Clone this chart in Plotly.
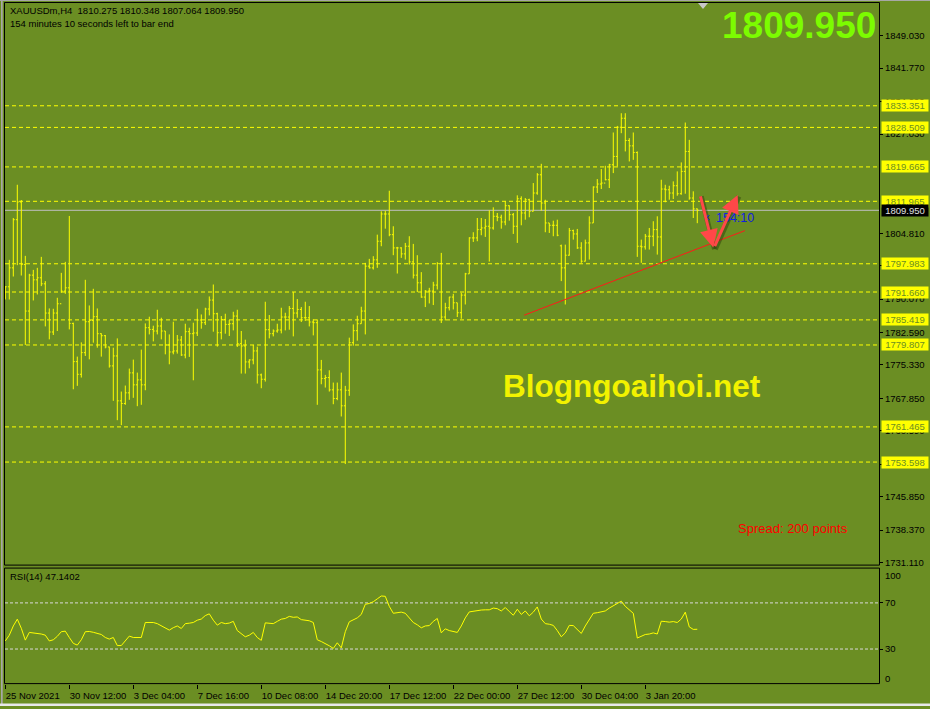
import plotly.graph_objects as go

# ---------------- data ----------------
OPEN = [1790.50, 1792.83, 1797.07, 1807.85, 1811.81, 1797.81, 1787.40, 1795.44, 1794.39, 1794.84,
        1793.50, 1786.95, 1782.71, 1786.95, 1789.03, 1791.87, 1792.60, 1784.63, 1776.08, 1773.24,
        1778.09, 1785.01, 1785.30, 1786.13, 1782.33, 1781.88, 1779.36, 1775.12, 1777.35, 1767.30,
        1766.70, 1769.09, 1773.56, 1770.88, 1771.99, 1770.88, 1783.67, 1783.29, 1782.93, 1784.05,
        1782.93, 1779.81, 1778.24, 1778.47, 1780.92, 1777.57, 1782.78, 1782.33, 1782.49, 1785.39,
        1784.79, 1787.85, 1789.86, 1786.80, 1782.55, 1785.52, 1784.41, 1784.56, 1786.28, 1780.10,
        1779.58, 1776.01, 1776.46, 1778.47, 1773.11, 1772.13, 1783.22, 1782.33, 1782.93, 1783.16,
        1786.06, 1786.06, 1787.98, 1786.95, 1787.76, 1785.90, 1785.90, 1784.94, 1784.79, 1774.23,
        1772.28, 1772.51, 1769.76, 1767.82, 1769.76, 1766.19, 1769.67, 1780.32, 1783.00, 1784.56,
        1787.40, 1797.45, 1797.07, 1798.86, 1803.03, 1809.13, 1809.13, 1804.50, 1801.53, 1801.53,
        1800.20, 1801.91, 1798.41, 1795.44, 1793.72, 1790.53, 1791.87, 1791.87, 1793.21, 1798.03,
        1786.06, 1788.14, 1790.53, 1789.25, 1787.02, 1790.97, 1795.73, 1803.77, 1803.77, 1805.62,
        1806.00, 1806.38, 1806.00, 1808.61, 1808.39, 1807.34, 1810.98, 1808.97, 1806.38, 1812.54,
        1809.35, 1812.32, 1809.73, 1813.82, 1817.90, 1811.58, 1807.12, 1806.60, 1806.60, 1802.00,
        1797.07, 1799.90, 1805.40, 1804.66, 1801.53, 1798.56, 1802.65, 1807.12, 1815.16, 1815.83,
        1816.05, 1816.79, 1820.14, 1822.01, 1828.55, 1830.56, 1825.58, 1824.38, 1822.90, 1801.91,
        1801.76, 1804.15, 1804.15, 1805.62, 1803.99, 1814.71, 1814.55, 1813.82, 1815.45, 1813.66,
        1818.66, 1823.13, 1812.70, 1810.275]

HIGH = [1792.98, 1798.86, 1808.23, 1815.67, 1812.25, 1799.75, 1795.73, 1796.62, 1797.07, 1799.53,
        1794.10, 1787.98, 1787.91, 1790.37, 1795.95, 1798.41, 1808.68, 1784.79, 1777.20, 1780.39,
        1794.39, 1788.65, 1792.38, 1787.98, 1782.40, 1782.04, 1779.43, 1779.20, 1781.28, 1769.38,
        1770.72, 1774.52, 1776.53, 1773.62, 1778.76, 1784.63, 1786.13, 1784.12, 1787.69, 1785.90,
        1782.93, 1782.17, 1785.01, 1782.04, 1781.82, 1784.56, 1783.67, 1784.79, 1787.91, 1786.64,
        1788.14, 1790.66, 1793.34, 1787.02, 1786.28, 1786.80, 1785.39, 1787.24, 1787.69, 1782.93,
        1780.99, 1776.59, 1779.81, 1779.43, 1773.40, 1789.48, 1786.51, 1783.29, 1784.56, 1788.14,
        1787.02, 1788.52, 1791.64, 1790.08, 1788.29, 1789.48, 1788.52, 1785.52, 1785.52, 1776.46,
        1773.11, 1774.14, 1771.39, 1771.39, 1773.62, 1770.65, 1781.44, 1784.41, 1786.35, 1788.36,
        1798.19, 1799.08, 1799.68, 1804.50, 1809.73, 1809.86, 1814.33, 1806.38, 1801.76, 1801.69,
        1802.65, 1804.15, 1802.43, 1799.90, 1796.11, 1792.09, 1792.60, 1793.94, 1798.34, 1800.42,
        1789.25, 1790.59, 1791.26, 1789.25, 1791.49, 1795.95, 1803.92, 1805.04, 1808.23, 1808.23,
        1808.01, 1809.95, 1810.62, 1809.35, 1808.97, 1811.96, 1811.07, 1809.35, 1813.30, 1813.08,
        1812.70, 1812.54, 1816.05, 1818.28, 1820.36, 1812.32, 1807.12, 1807.63, 1807.85, 1802.27,
        1802.27, 1806.00, 1805.62, 1805.78, 1802.81, 1803.39, 1808.61, 1815.31, 1816.94, 1819.18,
        1819.91, 1820.36, 1827.37, 1828.84, 1831.68, 1831.68, 1826.10, 1827.37, 1823.13, 1803.39,
        1804.66, 1806.00, 1807.50, 1808.61, 1816.79, 1815.67, 1815.45, 1816.43, 1818.66, 1820.67,
        1829.60, 1825.72, 1814.20, 1810.348]

LOW = [1789.99, 1789.99, 1795.13, 1797.67, 1795.35, 1779.81, 1780.17, 1789.77, 1791.11, 1792.98,
       1783.96, 1781.06, 1782.04, 1782.93, 1791.49, 1791.26, 1783.29, 1769.89, 1770.65, 1772.51,
       1777.35, 1776.59, 1780.32, 1779.20, 1777.20, 1779.05, 1774.74, 1767.30, 1762.97, 1761.86,
       1766.41, 1767.53, 1767.97, 1766.10, 1766.41, 1769.67, 1782.17, 1780.61, 1782.17, 1781.06,
       1777.71, 1775.48, 1777.71, 1777.87, 1777.35, 1776.82, 1777.13, 1771.90, 1781.82, 1783.45,
       1784.27, 1786.42, 1782.78, 1779.43, 1781.06, 1782.33, 1781.82, 1783.07, 1779.36, 1773.40,
       1773.40, 1774.58, 1775.48, 1771.17, 1770.12, 1771.61, 1781.28, 1781.73, 1782.55, 1782.40,
       1783.07, 1783.22, 1781.73, 1785.90, 1784.94, 1785.17, 1783.96, 1781.95, 1766.41, 1771.01,
       1770.27, 1769.38, 1766.54, 1767.44, 1763.80, 1753.15, 1768.42, 1779.65, 1780.77, 1784.56,
       1782.17, 1796.91, 1796.69, 1797.07, 1801.91, 1805.84, 1804.15, 1799.90, 1795.80, 1799.30,
       1798.92, 1797.81, 1794.68, 1791.64, 1790.37, 1788.29, 1789.10, 1788.74, 1792.22, 1784.72,
       1785.30, 1787.53, 1787.76, 1786.06, 1785.68, 1788.87, 1795.73, 1802.87, 1803.03, 1804.37,
       1803.99, 1798.48, 1805.62, 1807.50, 1805.84, 1806.60, 1807.63, 1804.66, 1802.65, 1806.60,
       1807.85, 1808.39, 1809.73, 1813.44, 1809.86, 1805.04, 1804.88, 1804.15, 1804.15, 1794.10,
       1788.87, 1799.80, 1803.39, 1801.31, 1798.19, 1798.50, 1798.92, 1807.12, 1813.82, 1814.71,
       1816.65, 1814.93, 1818.28, 1819.78, 1827.21, 1823.13, 1820.89, 1821.25, 1799.53, 1798.19,
       1801.16, 1801.16, 1801.91, 1800.04, 1798.34, 1811.74, 1812.32, 1812.48, 1813.21, 1813.44,
       1813.66, 1812.32, 1808.23, 1807.064]

CLOSE = [1792.83, 1797.07, 1807.85, 1811.81, 1797.81, 1787.40, 1795.44, 1794.39, 1794.84, 1793.50,
         1786.95, 1782.71, 1786.95, 1789.03, 1791.87, 1792.60, 1784.63, 1776.08, 1773.24, 1778.09,
         1785.01, 1785.30, 1786.13, 1782.33, 1781.88, 1779.36, 1775.12, 1777.35, 1767.30, 1766.70,
         1769.09, 1773.56, 1770.88, 1771.99, 1770.88, 1783.67, 1783.29, 1782.93, 1784.05, 1782.93,
         1779.81, 1778.24, 1778.47, 1780.92, 1777.57, 1782.78, 1782.33, 1782.49, 1785.39, 1784.79,
         1787.85, 1789.86, 1786.80, 1782.55, 1785.52, 1784.41, 1784.56, 1786.28, 1780.10, 1779.58,
         1776.01, 1776.46, 1778.47, 1773.11, 1772.13, 1783.22, 1782.33, 1782.93, 1783.16, 1786.06,
         1786.06, 1787.98, 1786.95, 1787.76, 1785.90, 1785.90, 1784.94, 1784.79, 1774.23, 1772.28,
         1772.51, 1769.76, 1767.82, 1769.76, 1766.19, 1769.67, 1780.32, 1783.00, 1784.56, 1787.40,
         1797.45, 1797.07, 1798.86, 1803.03, 1809.13, 1809.13, 1804.50, 1801.53, 1801.53, 1800.20,
         1801.91, 1798.41, 1795.44, 1793.72, 1790.53, 1791.87, 1791.87, 1793.21, 1798.03, 1786.06,
         1788.14, 1790.53, 1789.25, 1787.02, 1790.97, 1795.73, 1803.77, 1803.77, 1805.62, 1806.00,
         1806.38, 1806.00, 1808.61, 1808.39, 1807.34, 1810.98, 1808.97, 1806.38, 1812.54, 1809.35,
         1812.32, 1809.73, 1813.82, 1817.90, 1811.58, 1807.12, 1806.60, 1806.60, 1804.37, 1797.07,
         1799.90, 1805.40, 1804.66, 1801.53, 1798.56, 1802.65, 1807.12, 1815.16, 1815.83, 1816.05,
         1816.79, 1820.14, 1822.01, 1828.55, 1830.56, 1825.58, 1824.38, 1822.90, 1801.91, 1801.76,
         1804.15, 1804.15, 1805.62, 1803.99, 1814.71, 1814.55, 1813.82, 1815.45, 1813.66, 1818.66,
         1823.13, 1812.70, 1810.28, 1809.950]

RSI = [37.0, 42.0, 50.0, 55.9, 48.0, 37.7, 44.4, 44.0, 43.8, 43.0,
       42.0, 37.0, 38.0, 41.0, 45.0, 45.5, 40.0, 34.9, 33.4, 38.0,
       45.0, 45.2, 44.5, 43.5, 42.6, 40.0, 38.6, 40.0, 33.0, 33.0,
       37.0, 41.2, 40.0, 39.8, 40.0, 53.0, 53.3, 53.0, 52.0, 50.0,
       48.0, 46.4, 48.5, 50.0, 47.8, 52.0, 52.4, 53.0, 55.0, 56.0,
       59.0, 60.5, 55.0, 50.7, 53.0, 52.0, 52.5, 54.0, 46.0, 43.0,
       40.6, 42.0, 44.4, 40.0, 37.5, 52.7, 52.5, 52.0, 54.0, 55.9,
       56.5, 58.3, 57.5, 57.8, 55.5, 55.0, 54.5, 53.0, 38.0, 36.5,
       35.0, 32.8, 30.5, 35.4, 31.0, 45.0, 53.6, 55.0, 57.0, 60.0,
       68.8, 69.5, 71.0, 73.5, 76.0, 75.7, 67.0, 61.0, 61.5, 62.0,
       61.0, 57.0, 53.0, 51.0, 48.4, 50.0, 50.3, 54.0, 56.5, 44.0,
       47.5, 46.0, 45.0, 44.4, 50.0, 57.0, 62.2, 62.8, 63.5, 63.8,
       64.0, 64.0, 65.5, 65.0, 63.0, 66.0, 62.5, 59.3, 64.5, 60.0,
       63.0, 58.8, 62.0, 66.5, 56.0, 52.0, 51.5, 50.5, 46.0, 40.6,
       44.0, 50.5, 50.3, 47.0, 43.5, 50.0, 56.0, 61.0, 61.5, 62.0,
       63.0, 65.5, 67.5, 70.0, 71.5, 67.0, 64.0, 61.0, 39.5, 41.0,
       42.6, 43.0, 44.0, 43.0, 54.1, 53.8, 53.3, 53.8, 53.0, 56.0,
       62.0, 49.2, 47.0, 47.14]

BARS = list(range(len(CLOSE)))

LEVELS = [1833.351, 1828.509, 1819.665, 1811.965, 1797.983, 1791.660,
          1785.419, 1779.807, 1761.465, 1753.598]
LAST_PRICE = 1809.950

PRICE_TICKS = [1849.03, 1841.77, 1834.29, 1827.03, 1804.81, 1797.55,
               1790.07, 1782.59, 1775.33, 1767.85, 1760.59, 1753.11, 1745.85, 1738.37, 1731.11]

X_TICK_BARS = [0, 16, 32, 48, 64, 80, 96, 112, 128, 144, 160]
X_TICK_LABELS = ["25 Nov 2021", "30 Nov 12:00", "3 Dec 04:00", "7 Dec 16:00", "10 Dec 08:00",
                 "14 Dec 20:00", "17 Dec 12:00", "22 Dec 00:00", "27 Dec 12:00",
                 "30 Dec 04:00", "3 Jan 20:00"]

# drawing objects (trend line and V arrow) in bar / price units
TREND = [(129.7, 1786.46), (184.9, 1805.40)]
ARROW_DOWN = [(173.7, 1813.4), (177.0, 1801.6)]
ARROW_UP = [(177.2, 1801.6), (183.1, 1813.4)]

# ---------------- style ----------------
W, H = 930, 709
BG = "#6B8E23"
FONT = "Liberation Sans, Arial, sans-serif"


def px(x):
    return x / W


def py(y):
    return 1 - y / H


X_RANGE = [-0.075, 218.43]
Y_RANGE = [1730.53, 1856.47]
RSI_RANGE = [0.0, 100.2]

fig = go.Figure()

fig.add_trace(go.Ohlc(
    x=BARS, open=OPEN, high=HIGH, low=LOW, close=CLOSE,
    increasing=dict(line=dict(color="#FFFF00", width=1)),
    decreasing=dict(line=dict(color="#FFFF00", width=1)),
    tickwidth=0.35, hoverinfo="skip", xaxis="x", yaxis="y", showlegend=False))

fig.add_trace(go.Scatter(
    x=BARS, y=RSI, mode="lines", line=dict(color="#FFFF00", width=1),
    hoverinfo="skip", xaxis="x2", yaxis="y2", showlegend=False))

shapes = []
for lv in LEVELS:
    shapes.append(dict(type="line", xref="paper", yref="y", x0=px(5), x1=px(879), y0=lv, y1=lv,
                       line=dict(color="#FFFF00", width=1, dash="4px,3px"), layer="below"))
shapes.append(dict(type="line", xref="paper", yref="y", x0=px(5), x1=px(879),
                   y0=LAST_PRICE, y1=LAST_PRICE, line=dict(color="#C0C0C0", width=1), layer="below"))
for lv in (70, 30):
    shapes.append(dict(type="line", xref="paper", yref="y2", x0=px(5), x1=px(879), y0=lv, y1=lv,
                       line=dict(color="#D8D8D8", width=1, dash="3px,2px"), layer="below"))
shapes.append(dict(type="line", xref="x", yref="y", x0=TREND[0][0], y0=TREND[0][1],
                   x1=TREND[1][0], y1=TREND[1][1], line=dict(color="#FF1A1A", width=1)))
for a in (ARROW_DOWN, ARROW_UP):
    shapes.append(dict(type="line", xref="x", yref="y", x0=a[0][0] + 0.3, y0=a[0][1] - 0.35,
                       x1=a[1][0] + 0.3, y1=a[1][1] - 0.35,
                       line=dict(color="rgba(40,55,10,0.45)", width=5)))
shapes.append(dict(type="rect", xref="paper", yref="paper", x0=px(4.5), x1=px(879.5),
                   y0=py(567.5), y1=py(2.5), line=dict(color="#000000", width=1)))
shapes.append(dict(type="rect", xref="paper", yref="paper", x0=px(4.5), x1=px(879.5),
                   y0=py(686.5), y1=py(570.5), line=dict(color="#000000", width=1)))
shapes.append(dict(type="rect", xref="paper", yref="paper", x0=px(1), x1=px(2.7),
                   y0=py(709), y1=py(0), line=dict(width=0), fillcolor="#A8A8A8"))
shapes.append(dict(type="rect", xref="paper", yref="paper", x0=0, x1=1,
                   y0=py(709), y1=py(706.5), line=dict(width=0), fillcolor="#E8E8E8"))
shapes.append(dict(type="line", xref="paper", yref="paper", x0=0, x1=1,
                   y0=py(0.5), y1=py(0.5), line=dict(color="#A8A8A8", width=1)))
shapes.append(dict(type="path", xref="paper", yref="paper",
                   path=f"M {px(698)},{py(3)} L {px(708)},{py(3)} L {px(703)},{py(9)} Z",
                   fillcolor="#C8C8C8", line=dict(width=0)))

annotations = []
annotations.append(dict(text="XAUUSDm,H4  1810.275 1810.348 1807.064 1809.950",
                        xref="paper", yref="paper", x=px(8), y=py(11), xanchor="left", yanchor="middle",
                        showarrow=False, font=dict(family=FONT, size=9.5, color="#000000")))
annotations.append(dict(text="154 minutes 10 seconds left to bar end",
                        xref="paper", yref="paper", x=px(8), y=py(24), xanchor="left", yanchor="middle",
                        showarrow=False, font=dict(family=FONT, size=9.5, color="#000000")))
annotations.append(dict(text="RSI(14) 47.1402",
                        xref="paper", yref="paper", x=px(8), y=py(579), xanchor="left", yanchor="middle",
                        showarrow=False, font=dict(family=FONT, size=9.5, color="#000000")))
annotations.append(dict(text="<b>1809.950</b>", xref="paper", yref="paper", x=px(878), y=py(26),
                        xanchor="right", yanchor="middle", showarrow=False,
                        font=dict(family=FONT, size=37, color="#7CFC00")))
annotations.append(dict(text="<b>Blogngoaihoi.net</b>", xref="paper", yref="paper", x=px(632), y=py(388),
                        xanchor="center", yanchor="middle", showarrow=False,
                        font=dict(family=FONT, size=31.5, color="#F2F200")))
annotations.append(dict(text="Spread: 200 points", xref="paper", yref="paper", x=px(736), y=py(531),
                        xanchor="left", yanchor="middle", showarrow=False,
                        font=dict(family=FONT, size=13, color="#FF0000")))
annotations.append(dict(text="‹", xref="paper", yref="paper", x=px(704), y=py(218),
                        xanchor="left", yanchor="middle", showarrow=False,
                        font=dict(family=FONT, size=12, color="#1020E0")))
annotations.append(dict(text="154:10", xref="paper", yref="paper", x=px(714), y=py(219),
                        xanchor="left", yanchor="middle", showarrow=False,
                        font=dict(family=FONT, size=12.5, color="#1020E0")))
for a in (ARROW_DOWN, ARROW_UP):
    annotations.append(dict(x=a[1][0], y=a[1][1], ax=a[0][0], ay=a[0][1], xref="x", yref="y",
                            axref="x", ayref="y", text="", showarrow=True, arrowhead=2,
                            arrowsize=1.2, arrowwidth=3, arrowcolor="#FF4848"))
for lv in LEVELS:
    annotations.append(dict(text=f"{lv:.3f}", xref="paper", yref="y", x=px(881), y=lv,
                            xanchor="left", yanchor="middle", showarrow=False, width=44, height=9,
                            bgcolor="#FFFF00", borderpad=1, align="center",
                            font=dict(family=FONT, size=9.5, color=BG)))
annotations.append(dict(text=f"{LAST_PRICE:.3f}", xref="paper", yref="y", x=px(881), y=LAST_PRICE,
                        xanchor="left", yanchor="middle", showarrow=False, width=44, height=9,
                        bgcolor="#000000", borderpad=1, align="center",
                        font=dict(family=FONT, size=9.5, color="#E0E0E0")))
annotations.append(dict(text="100", xref="paper", yref="paper", x=px(883), y=py(578),
                        xanchor="left", yanchor="middle", showarrow=False,
                        font=dict(family=FONT, size=9.5, color="#000000")))
annotations.append(dict(text="0", xref="paper", yref="paper", x=px(883), y=py(681),
                        xanchor="left", yanchor="middle", showarrow=False,
                        font=dict(family=FONT, size=9.5, color="#000000")))

axis_common = dict(showgrid=False, zeroline=False, showline=False)

fig.update_layout(
    width=W, height=H, margin=dict(l=0, r=0, t=0, b=0),
    paper_bgcolor=BG, plot_bgcolor=BG, showlegend=False, hovermode=False,
    font=dict(family=FONT, size=9.5, color="#000000"),
    xaxis=dict(domain=[px(5), px(879)], range=X_RANGE, showticklabels=False, ticks="",
               rangeslider=dict(visible=False), fixedrange=True, **axis_common),
    yaxis=dict(domain=[py(567.5), py(2.5)], range=Y_RANGE, side="right", anchor="x",
               tickvals=PRICE_TICKS, ticktext=[f"{v:.3f}" for v in PRICE_TICKS],
               ticks="outside", ticklen=3, tickcolor="#000000", tickwidth=1,
               tickfont=dict(family=FONT, size=9.5, color="#000000"), fixedrange=True, **axis_common),
    xaxis2=dict(domain=[px(5), px(879)], range=X_RANGE, anchor="y2",
                tickvals=X_TICK_BARS, ticktext=X_TICK_LABELS, ticks="outside", ticklen=4,
                tickcolor="#000000", tickwidth=1, ticklabelposition="outside right", tickangle=0,
                ticklabelstandoff=3,
                tickfont=dict(family=FONT, size=9.5, color="#000000"),
                rangeslider=dict(visible=False), fixedrange=True, **axis_common),
    yaxis2=dict(domain=[py(686.5), py(570.5)], range=RSI_RANGE, side="right", anchor="x2",
                tickvals=[30, 70], ticktext=["30", "70"], ticks="outside", ticklen=3,
                tickcolor="#000000", tickfont=dict(family=FONT, size=9.5, color="#000000"),
                fixedrange=True, **axis_common),
    shapes=shapes, annotations=annotations,
)

fig.write_html("out.html", config={"displayModeBar": False},
               post_script="document.body.style.margin='0px';document.body.style.overflow='hidden';")
